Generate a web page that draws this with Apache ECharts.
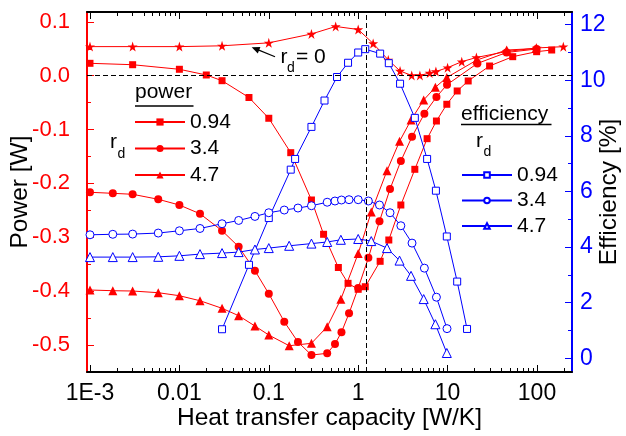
<!DOCTYPE html>
<html>
<head>
<meta charset="utf-8">
<script src="https://cdn.jsdelivr.net/npm/echarts@6/dist/echarts.min.js"></script>
<style>
  html, body { margin: 0; padding: 0; background: #fff; }
  #chart { width: 626px; height: 436px; }
</style>
</head>
<body>
<div id="chart"></div>
<script>
// Heat transfer capacity [W/K] of each sample, and the power [W] / efficiency [%] measured there.
const capStar = [0.001, 0.003, 0.01, 0.03, 0.1, 0.3, 0.56, 1, 1.47, 2.17, 2.94, 3.97, 4.9, 6.3, 7.4, 10, 14.4, 21, 46, 99, 197];
const powerStar = [0.054, 0.054, 0.054, 0.0555, 0.061, 0.0775, 0.0914, 0.0858, 0.0598, 0.0292, 0.0087, 0.0004, 0.0004, 0.005, 0.0078, 0.0149, 0.026, 0.0338, 0.045, 0.0515, 0.0539];

const capSq = [0.001, 0.003, 0.01, 0.02, 0.03, 0.06, 0.1, 0.176, 0.3, 0.41, 0.6, 0.77, 1, 1.2, 1.76, 2.2, 3, 4.3, 5.9, 7.5, 9.8, 12.8, 17, 29.5, 53.5, 99, 146];
const powerSq = [0.023, 0.0204, 0.0119, 0.0013, -0.0093, -0.0405, -0.0791, -0.143, -0.2309, -0.2946, -0.3563, -0.3857, -0.3968, -0.392, -0.3448, -0.3052, -0.2402, -0.1739, -0.117, -0.0842, -0.0531, -0.0284, -0.0098, 0.018, 0.0353, 0.0446, 0.0477];
const capSqEff = [0.03, 0.06, 0.1, 0.176, 0.197, 0.3, 0.42, 0.58, 0.77, 1, 1.2, 1.76, 2.2, 2.94, 4.3, 5.9, 7.4, 9.8, 12.8, 16.5];
const effSq = [1.045, 3.362, 5.045, 6.786, 7.171, 8.324, 9.272, 10.119, 10.631, 11.0, 11.12, 10.96, 10.616, 9.877, 8.649, 7.171, 6.029, 4.382, 2.76, 1.056];

const capCirc = [0.001, 0.0018, 0.003, 0.0058, 0.01, 0.017, 0.03, 0.046, 0.07, 0.1, 0.149, 0.212, 0.3, 0.45, 0.55, 0.65, 0.79, 1, 1.3, 1.73, 2.27, 3, 4, 5.5, 7.5, 9.85, 21.5, 45.7, 99];
const powerCirc = [-0.2166, -0.2185, -0.2203, -0.2296, -0.2402, -0.2565, -0.2879, -0.3177, -0.3622, -0.405, -0.457, -0.4947, -0.5189, -0.5157, -0.4984, -0.4765, -0.4414, -0.3944, -0.3383, -0.2705, -0.2105, -0.1585, -0.1133, -0.0706, -0.0396, -0.0167, 0.0227, 0.0431, 0.0496];
const effCirc = [4.443, 4.461, 4.468, 4.505, 4.587, 4.67, 4.84, 4.959, 5.103, 5.236, 5.333, 5.405, 5.488, 5.614, 5.658, 5.694, 5.705, 5.705, 5.658, 5.514, 5.236, 4.768, 4.144, 3.243, 2.198, 1.067];

const capTri = [0.001, 0.0018, 0.003, 0.0058, 0.01, 0.017, 0.03, 0.046, 0.07, 0.1, 0.169, 0.3, 0.45, 0.64, 1, 1.4, 2.1, 2.9, 3.9, 5.4, 7.3, 9.8, 21.3, 45.8, 97.5];
const powerTri = [-0.3981, -0.3994, -0.4, -0.4031, -0.4087, -0.418, -0.4321, -0.4458, -0.465, -0.4817, -0.5016, -0.4971, -0.4663, -0.4152, -0.3303, -0.2532, -0.1765, -0.1219, -0.0823, -0.0451, -0.0215, -0.0033, 0.0292, 0.0477, 0.0505];
const effTri = [3.64, 3.64, 3.64, 3.65, 3.686, 3.748, 3.784, 3.82, 3.914, 3.964, 4.047, 4.126, 4.184, 4.263, 4.292, 4.216, 3.964, 3.514, 2.966, 2.13, 1.225, 0.191];

// Axis ranges and tick labels
const capMin = 0.000926, capMax = 246.3;
const decadeExp = [-3, -2, -1, 0, 1, 2];
const decadeLabels = ['1E-3', '0.01', '0.1', '1', '10', '100'];
const powerTicks = [-0.5, -0.4, -0.3, -0.2, -0.1, 0, 0.1];
const powerMinorTicks = [-0.45, -0.35, -0.25, -0.15, -0.05, 0.05];
const effTicks = [0, 2, 4, 6, 8, 10, 12];
const effMinorTicks = [1, 3, 5, 7, 9, 11];
const seriesNames = ['0.94', '3.4', '4.7'];
const optimumCap = 1.22;

const RED = '#ff0000', BLUE = '#0000ff';
const FONT = 'Liberation Sans, Arial, Helvetica, sans-serif';
const FS = 21;

const logMin = Math.log10(capMin), logMax = Math.log10(capMax);
const minorExp = [];
for (let d = -4; d <= 2; d++) {
  for (let k = 2; k <= 9; k++) {
    const v = d + Math.log10(k);
    if (v > logMin && v < logMax) minorExp.push(v);
  }
}

const zip = (xs, ys) => ys.map((y, i) => [xs[i], y]);
const STAR = 'path://M0,-1L0.2245,-0.309L0.951,-0.309L0.3633,0.118L0.5878,0.809L0,0.382L-0.5878,0.809L-0.3633,0.118L-0.951,-0.309L-0.2245,-0.309Z';

function helperX(position, values, len, extra) {
  return Object.assign({
    type: 'value', position: position, min: logMin, max: logMax,
    axisLine: { show: false, onZero: false },
    splitLine: { show: false },
    axisLabel: { show: false },
    axisTick: { show: true, inside: true, length: len, customValues: values, lineStyle: { color: '#000', width: 1 } }
  }, extra || {});
}
function helperY(position, min, max, values, len, color, extra) {
  return Object.assign({
    type: 'value', position: position, min: min, max: max,
    axisLine: { show: false, onZero: false },
    splitLine: { show: false },
    axisLabel: { show: false },
    axisTick: { show: true, inside: true, length: len, customValues: values, lineStyle: { color: color, width: 1 } }
  }, extra || {});
}

const powMin = -0.5504, powMax = 0.1183;
const effMin = -0.493, effMax = 12.457;

function redSeries(name, symbol, size, xs, ys) {
  return {
    type: 'line', name: name, xAxisIndex: 0, yAxisIndex: 0,
    data: zip(xs, ys), symbol: symbol, symbolSize: size,
    lineStyle: { color: RED, width: 1 },
    itemStyle: { color: RED, borderWidth: 0 },
    emphasis: { disabled: true }, z: 2
  };
}
function blueSeries(name, symbol, size, xs, ys) {
  return {
    type: 'line', name: name, xAxisIndex: 0, yAxisIndex: 2,
    data: zip(xs, ys), symbol: symbol, symbolSize: size,
    lineStyle: { color: BLUE, width: 1 },
    itemStyle: { color: '#fff', borderColor: BLUE, borderWidth: 1 },
    emphasis: { disabled: true }, z: 3
  };
}

const chart = echarts.init(document.getElementById('chart'), null, { renderer: 'canvas' });
chart.setOption({
  animation: false,
  backgroundColor: '#fff',
  textStyle: { fontFamily: FONT },
  grid: { left: 87, right: 54, top: 12, bottom: 64, containLabel: false, outerBoundsMode: 'none' },
  xAxis: [
    { type: 'log', logBase: 10, min: capMin, max: capMax, position: 'bottom', show: false },
    helperX('bottom', decadeExp, 7, {
      axisLine: { show: true, onZero: false, lineStyle: { color: '#000', width: 2 } },
      axisLabel: {
        show: true, customValues: decadeExp, margin: 10, fontSize: 23, color: '#000', fontFamily: FONT,
        formatter: v => decadeLabels[decadeExp.indexOf(Math.round(v))]
      },
      name: 'Heat transfer capacity [W/K]', nameLocation: 'middle', nameGap: 34, nameMoveOverlap: false,
      nameTextStyle: { fontSize: 24.5, color: '#000', fontFamily: FONT, verticalAlign: 'top' }
    }),
    helperX('bottom', minorExp, 4),
    helperX('top', decadeExp, 7, { axisLine: { show: true, onZero: false, lineStyle: { color: '#000', width: 2 } } }),
    helperX('top', minorExp, 4)
  ],
  yAxis: [
    helperY('left', powMin, powMax, powerTicks, 7, RED, {
      axisLine: { show: true, onZero: false, lineStyle: { color: RED, width: 2 } },
      axisLabel: {
        show: true, customValues: powerTicks, margin: 17, fontSize: 22, color: RED, fontFamily: FONT,
        formatter: v => v.toFixed(1)
      },
      name: 'Power [W]', nameLocation: 'middle', nameGap: 54, nameRotate: 90, nameMoveOverlap: false,
      nameTextStyle: { fontSize: 24.5, color: '#000', fontFamily: FONT }
    }),
    helperY('left', powMin, powMax, powerMinorTicks, 4, RED),
    helperY('right', effMin, effMax, effTicks, 7, BLUE, {
      axisLine: { show: true, onZero: false, lineStyle: { color: BLUE, width: 2 } },
      axisLabel: {
        show: true, customValues: effTicks, margin: 8, fontSize: 23, color: BLUE, fontFamily: FONT,
        formatter: v => String(Math.round(v))
      },
      name: 'Efficiency [%]', nameLocation: 'middle', nameGap: 25, nameRotate: 90, nameMoveOverlap: false,
      nameTextStyle: { fontSize: 24.5, color: '#000', fontFamily: FONT }
    }),
    helperY('right', effMin, effMax, effMinorTicks, 4, BLUE)
  ],
  legend: [
    {
      data: seriesNames.map(n => 'power ' + n),
      orient: 'vertical', left: 134, top: 111.5, padding: 0,
      itemWidth: 50, itemHeight: 9, itemGap: 5.5, selectedMode: false,
      formatter: n => n.split(' ')[1],
      textStyle: { fontSize: FS, color: '#000', fontFamily: FONT }
    },
    {
      data: seriesNames.map(n => 'efficiency ' + n),
      orient: 'vertical', left: 461, top: 164.5, padding: 0,
      itemWidth: 50, itemHeight: 7, itemGap: 4.5, selectedMode: false,
      formatter: n => n.split(' ')[1],
      textStyle: { fontSize: FS, color: '#000', fontFamily: FONT }
    }
  ],
  series: [
    {
      type: 'line', name: 'power 0', xAxisIndex: 0, yAxisIndex: 0,
      data: zip(capStar, powerStar), symbol: STAR, symbolSize: 10,
      lineStyle: { color: RED, width: 1 }, itemStyle: { color: RED },
      emphasis: { disabled: true }, z: 2,
      markLine: {
        silent: true, symbol: 'none', label: { show: false },
        lineStyle: { color: '#000', type: [5, 3], width: 1 },
        data: [{ yAxis: 0 }, { xAxis: optimumCap }]
      }
    },
    redSeries('power ' + seriesNames[0], 'rect', 7, capSq, powerSq),
    redSeries('power ' + seriesNames[1], 'circle', 8, capCirc, powerCirc),
    redSeries('power ' + seriesNames[2], 'triangle', 9, capTri, powerTri),
    blueSeries('efficiency ' + seriesNames[0], 'rect', 7, capSqEff, effSq),
    blueSeries('efficiency ' + seriesNames[1], 'circle', 8, capCirc, effCirc),
    blueSeries('efficiency ' + seriesNames[2], 'triangle', 9, capTri, effTri)
  ],
  graphic: [
    { type: 'text', x: 135, y: 92.5, style: { text: 'power', fontSize: FS, fontFamily: FONT, fill: '#000', verticalAlign: 'middle' } },
    { type: 'line', shape: { x1: 135, y1: 106, x2: 193.5, y2: 106 }, style: { stroke: '#000', lineWidth: 1.5 } },
    { type: 'text', x: 110, y: 142.5, style: { text: 'r', fontSize: FS, fontFamily: FONT, fill: '#000', verticalAlign: 'middle' } },
    { type: 'text', x: 117.5, y: 154, style: { text: 'd', fontSize: 14, fontFamily: FONT, fill: '#000', verticalAlign: 'middle' } },

    { type: 'text', x: 461, y: 114, style: { text: 'efficiency', fontSize: FS, fontFamily: FONT, fill: '#000', verticalAlign: 'middle' } },
    { type: 'line', shape: { x1: 461, y1: 124.5, x2: 551.5, y2: 124.5 }, style: { stroke: '#000', lineWidth: 1.5 } },
    { type: 'text', x: 476, y: 141, style: { text: 'r', fontSize: FS, fontFamily: FONT, fill: '#000', verticalAlign: 'middle' } },
    { type: 'text', x: 483.5, y: 152, style: { text: 'd', fontSize: 14, fontFamily: FONT, fill: '#000', verticalAlign: 'middle' } },

    { type: 'text', x: 280.5, y: 57, style: { text: 'r', fontSize: FS, fontFamily: FONT, fill: '#000', verticalAlign: 'middle' } },
    { type: 'text', x: 287, y: 68.5, style: { text: 'd', fontSize: 14, fontFamily: FONT, fill: '#000', verticalAlign: 'middle' } },
    { type: 'text', x: 296, y: 57.5, style: { text: '= 0', fontSize: FS, fontFamily: FONT, fill: '#000', verticalAlign: 'middle' } },
    { type: 'line', shape: { x1: 275, y1: 56.7, x2: 257, y2: 49.4 }, style: { stroke: '#000', lineWidth: 1.2 } },
    { type: 'polygon', shape: { points: [[251.7, 47.3], [260.4, 47.0], [257.8, 53.6]] }, style: { fill: '#000' } }
  ]
});
</script>
</body>
</html>
